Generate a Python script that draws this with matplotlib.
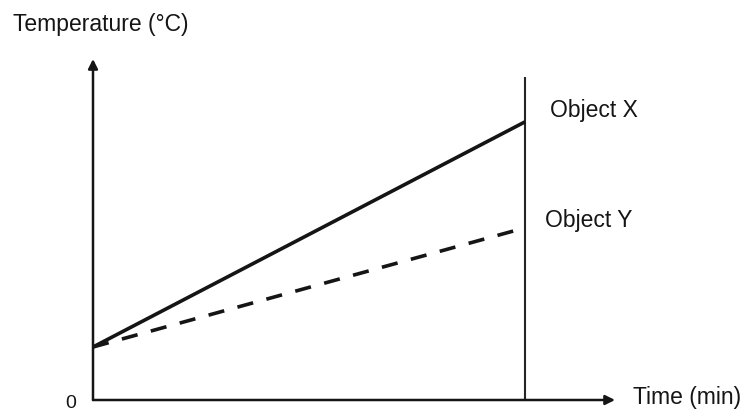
import matplotlib.pyplot as plt

# Temperature of two objects heated over time (arbitrary units, no scale shown)
time = [0, 10]
temp_x = [20, 105]
temp_y = [20, 65]
labels = ["Object X", "Object Y"]

plt.rcParams['font.family'] = ['Liberation Sans', 'DejaVu Sans']

fig = plt.figure(figsize=(7.47, 4.14), dpi=100)
ax = fig.add_axes([93 / 747, 13 / 414, 522 / 747, 341 / 414])
ax.set_xlim(0, 12.08)
ax.set_ylim(0, 128.7)
ax.axis('off')

# axes drawn as arrows
arrow = dict(arrowstyle='-|>', color='#151515', lw=1.8, mutation_scale=14,
             shrinkA=0, shrinkB=0)
ax.annotate('', xy=(1, 0), xytext=(0, 0), xycoords='axes fraction', arrowprops=arrow)
ax.annotate('', xy=(0, 1), xytext=(0, 0), xycoords='axes fraction', arrowprops=arrow)

# vertical marker at end of heating
ax.plot([time[1], time[1]], [0, 122], color='#252525', lw=1.5, solid_capstyle='butt')

ax.plot(time, temp_x, color='#151515', lw=2.6, solid_capstyle='butt')
ax.plot(time, temp_y, color='#151515', lw=2.6, linestyle=(0, (4.5, 3.8)))

ax.annotate(labels[0], xy=(time[1], temp_x[1]), xytext=(18, 8.6),
            textcoords='offset points', fontsize=16.5, va='center', ha='left',
            color='#151515')
ax.annotate(labels[1], xy=(time[1], temp_y[1]), xytext=(14.4, 5.8),
            textcoords='offset points', fontsize=16.5, va='center', ha='left',
            color='#151515')

fig.text(13 / 747, 1 - 25 / 414, "Temperature (°C)", fontsize=16.5, va='center',
         ha='left', color='#151515')
fig.text(633 / 747, 1 - 398 / 414, "Time (min)", fontsize=16.5, va='center',
         ha='left', color='#151515')
fig.text(71 / 747, 1 - 404 / 414, "0", fontsize=14, va='center', ha='center',
         color='#151515')

fig.savefig("out.png", dpi=100)
